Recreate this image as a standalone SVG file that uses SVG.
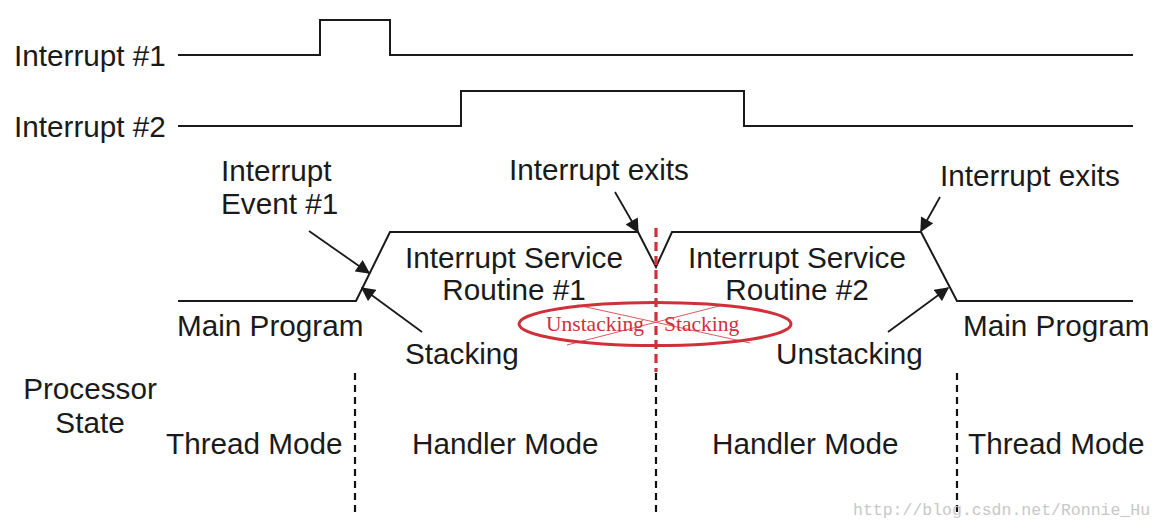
<svg xmlns="http://www.w3.org/2000/svg" width="1164" height="528" viewBox="0 0 1164 528">
<defs>
<style>
.t{font-family:"Liberation Sans",Arial,sans-serif;font-size:29.7px;fill:#1a1a1a}
.m{text-anchor:middle}
.w{fill:none;stroke:#1a1a1a;stroke-width:2}
.a{fill:none;stroke:#1a1a1a;stroke-width:1.8}
.d{fill:none;stroke:#111;stroke-width:2.2;stroke-dasharray:7 5}
.r{font-family:"Liberation Serif","Times New Roman",serif;font-size:21.5px;fill:#d0303a}
</style>
<marker id="ah" viewBox="0 0 10 10" refX="9" refY="5" markerWidth="15" markerHeight="14" markerUnits="userSpaceOnUse" orient="auto">
<path d="M0,0 L10,5 L0,10 z" fill="#1a1a1a"/>
</marker>
</defs>
<rect width="1164" height="528" fill="#fff"/>
<g id="waveforms">
<polyline class="w" points="178,55 320,55 320,20 390,20 390,55 1133,55"/>
<polyline class="w" points="178,126 461,126 461,91 744,91 744,126 1133,126"/>
<polyline class="w" points="178,301 356,301 390,232 638,232 656,267 672,232 921,232 957,301 1133,301"/>
</g>
<g id="connectors">
<line class="a" x1="309" y1="231" x2="369" y2="273" marker-end="url(#ah)"/>
<line class="a" x1="422" y1="332" x2="362" y2="288" marker-end="url(#ah)"/>
<line class="a" x1="615" y1="192" x2="638" y2="232" marker-end="url(#ah)"/>
<line class="a" x1="940" y1="197" x2="921" y2="231" marker-end="url(#ah)"/>
<line class="a" x1="888" y1="332" x2="948" y2="288" marker-end="url(#ah)"/>
</g>
<g id="dividers">
<line class="d" x1="355" y1="373" x2="355" y2="516"/>
<line class="d" x1="656" y1="373" x2="656" y2="516"/>
<line class="d" x1="957" y1="373" x2="957" y2="516"/>
<line x1="656" y1="228" x2="656" y2="372" stroke="#d0303a" stroke-width="3.2" stroke-dasharray="9 5"/>
</g>
<g id="labels">
<text class="t" x="14" y="66">Interrupt #1</text>
<text class="t" x="14" y="137">Interrupt #2</text>
<text class="t" x="221" y="181">Interrupt</text>
<text class="t" x="221" y="214">Event #1</text>
<text class="t" x="509" y="180">Interrupt exits</text>
<text class="t" x="940" y="186">Interrupt exits</text>
<text class="t m" x="514" y="268">Interrupt Service</text>
<text class="t m" x="514" y="300">Routine #1</text>
<text class="t m" x="797" y="268">Interrupt Service</text>
<text class="t m" x="797" y="300">Routine #2</text>
<text class="t" x="177" y="336">Main Program</text>
<text class="t" x="963" y="336">Main Program</text>
<text class="t" x="405" y="364">Stacking</text>
<text class="t" x="776" y="364">Unstacking</text>
<text class="t m" x="90" y="399">Processor</text>
<text class="t m" x="90" y="433">State</text>
<text class="t" x="166" y="454">Thread Mode</text>
<text class="t" x="412" y="454">Handler Mode</text>
<text class="t" x="712" y="454">Handler Mode</text>
<text class="t" x="968" y="454">Thread Mode</text>
</g>
<g id="annotation">
<ellipse cx="655" cy="324" rx="136" ry="21.5" fill="none" stroke="#d0303a" stroke-width="3"/>
<line x1="577" y1="305" x2="750" y2="343" stroke="#d0303a" stroke-width="0.8"/>
<line x1="723" y1="305" x2="567" y2="345" stroke="#d0303a" stroke-width="0.8"/>
<text class="r" x="546" y="331">Unstacking</text>
<text class="r" x="664" y="331">Stacking</text>
</g>
<text x="853" y="515" font-family="Liberation Mono,monospace" font-size="16.5" fill="#c8c8c8">http://blog.csdn.net/Ronnie_Hu</text>
</svg>
